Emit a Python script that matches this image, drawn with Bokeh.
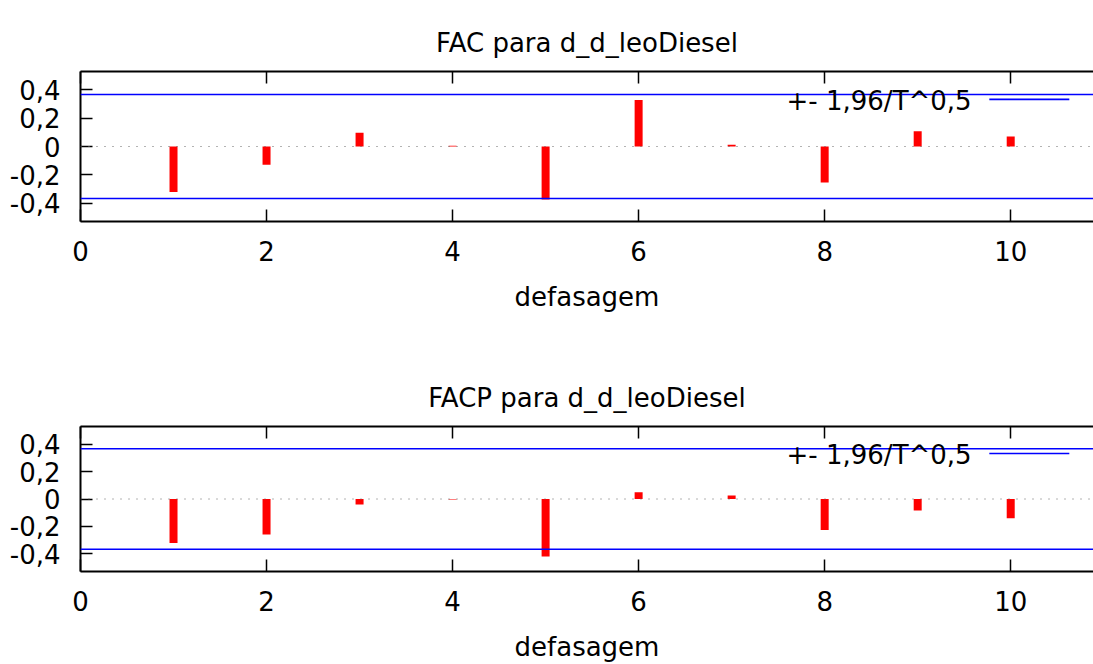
from bokeh.plotting import figure
from bokeh.layouts import column
from bokeh.models import (FixedTicker, LinearAxis, CustomJSTickFormatter, Span,
                          Label, Range1d)
from bokeh.embed import file_html
from bokeh.resources import INLINE

# ---- data ----
lags = [1, 2, 3, 4, 5, 6, 7, 8, 9, 10]
fac = [-0.321, -0.129, 0.098, 0.005, -0.375, 0.328, 0.012, -0.255, 0.107, 0.070]
facp = [-0.321, -0.260, -0.040, -0.003, -0.421, 0.049, 0.025, -0.227, -0.084, -0.140]
band = 0.367  # 1,96/T^0,5
titles = ["FAC para d_d_leoDiesel", "FACP para d_d_leoDiesel"]
x_label = "defasagem"
legend_text = "+- 1,96/T^0,5"
x_ticks = [0, 2, 4, 6, 8, 10]
y_ticks = [-0.4, -0.2, 0, 0.2, 0.4]

FONT = "DejaVu Sans"
FS = "26px"

fmt = CustomJSTickFormatter(code="""
    if (Math.abs(tick) < 1e-9) return '0';
    return tick.toFixed(1).replace('.', ',');
""")
blank = CustomJSTickFormatter(code="return '';")


def make(title, vals, height, top_border, bottom_border):
    p = figure(width=1093, height=height,
               x_range=Range1d(0, 10.89), y_range=Range1d(-0.53, 0.53),
               output_backend="svg", toolbar_location=None,
               min_border_left=80, min_border_right=0,
               min_border_top=top_border, min_border_bottom=bottom_border,
               title=title)
    p.outline_line_color = None
    p.xgrid.visible = False
    p.ygrid.visible = False
    p.background_fill_color = "white"
    p.border_fill_color = "white"

    t = p.title
    t.text_font = FONT
    t.text_font_size = FS
    t.text_font_style = "normal"
    t.align = "center"
    t.text_color = "black"
    t.standoff = 28

    xa = p.xaxis[0]
    xa.ticker = FixedTicker(ticks=x_ticks)
    xa.axis_label = x_label
    ya = p.yaxis[0]
    ya.ticker = FixedTicker(ticks=y_ticks)
    ya.formatter = fmt
    for ax in (xa, ya):
        ax.axis_line_width = 2
        ax.axis_line_color = "black"
        ax.major_tick_in = 12
        ax.major_tick_out = 0
        ax.major_tick_line_width = 1.5
        ax.major_tick_line_color = "black"
        ax.minor_tick_line_color = None
        ax.major_label_text_font = FONT
        ax.major_label_text_font_size = FS
        ax.major_label_text_color = "black"
        ax.axis_label_text_font = FONT
        ax.axis_label_text_font_size = FS
        ax.axis_label_text_font_style = "normal"
        ax.axis_label_text_color = "black"
    xa.major_label_standoff = 19
    xa.axis_label_standoff = 18
    ya.major_label_standoff = 20

    top = LinearAxis(ticker=FixedTicker(ticks=x_ticks), formatter=blank,
                     major_tick_in=12, major_tick_out=0,
                     major_tick_line_width=1.5,
                     minor_tick_line_color=None,
                     axis_line_width=2, major_label_standoff=0)
    p.add_layout(top, "above")

    # zero line and +- band
    p.add_layout(Span(location=0, dimension="width", line_color="#666666",
                      line_width=1, line_dash="1 7"))
    for loc in (band, -band):
        p.add_layout(Span(location=loc, dimension="width", line_color="#0000ff",
                          line_width=1.6))

    # bars (impulses)
    p.vbar(x=lags, top=vals, bottom=0, width=0.086,
           fill_color="#ff0000", line_color=None)

    # legend-like key (text then sample line, as gnuplot draws it)
    p.add_layout(Label(x=9.58, y=0.32, text=legend_text, text_font=FONT,
                       text_font_size=FS, text_align="right",
                       text_baseline="middle", text_color="black"))
    p.line(x=[9.77, 10.63], y=[0.333, 0.333], line_color="#0000ff", line_width=1.6)
    return p


p1 = make(titles[0], fac, 363, 71, 142)
p2 = make(titles[1], facp, 301, 63, 88)
layout = column(p1, p2, spacing=0)

open("out.html", "w").write(file_html(layout, INLINE))
